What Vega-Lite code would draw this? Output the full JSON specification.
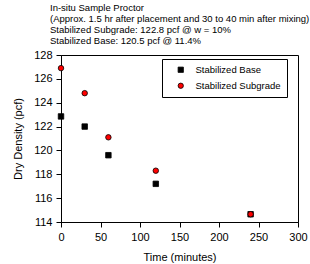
{
  "$schema": "https://vega.github.io/schema/vega-lite/v6.json",
  "autosize": {"type": "none"},
  "width": 237,
  "height": 167,
  "padding": {"left": 61, "top": 55, "right": 12, "bottom": 42},
  "background": "white",
  "title": {
    "text": ["In-situ Sample Proctor", "(Approx. 1.5 hr after placement and 30 to 40 min after mixing)", "Stabilized Subgrade: 122.8 pcf @ w = 10%", "Stabilized Base: 120.5 pcf @ 11.4%"],
    "anchor": "start",
    "frame": "group",
    "dx": -11,
    "offset": 4,
    "font": "Liberation Sans",
    "fontSize": 9.5,
    "fontWeight": "normal",
    "lineHeight": 11,
    "color": "black"
  },
  "data": {
    "values": [
      {"time": 0, "density": 122.85, "series": "Stabilized Base"},
      {"time": 30, "density": 122.0, "series": "Stabilized Base"},
      {"time": 60, "density": 119.6, "series": "Stabilized Base"},
      {"time": 120, "density": 117.2, "series": "Stabilized Base"},
      {"time": 240, "density": 114.65, "series": "Stabilized Base"},
      {"time": 0, "density": 126.9, "series": "Stabilized Subgrade"},
      {"time": 30, "density": 124.8, "series": "Stabilized Subgrade"},
      {"time": 60, "density": 121.1, "series": "Stabilized Subgrade"},
      {"time": 120, "density": 118.3, "series": "Stabilized Subgrade"},
      {"time": 240, "density": 114.65, "series": "Stabilized Subgrade"}
    ]
  },
  "mark": {"type": "point", "filled": true, "stroke": "black", "strokeWidth": 0.8, "opacity": 1, "size": 30},
  "encoding": {
    "x": {
      "field": "time", "type": "quantitative", "title": "Time (minutes)",
      "scale": {"domain": [0, 300], "nice": false, "zero": false},
      "axis": {"values": [0, 50, 100, 150, 200, 250, 300], "grid": false, "domainColor": "black", "tickColor": "black", "tickSize": 5, "labelPadding": 4, "labelFontSize": 11, "labelFont": "Liberation Sans", "labelColor": "black", "titleFont": "Liberation Sans", "titleFontSize": 11, "titleFontWeight": "normal", "titleColor": "black", "titlePadding": 9, "labelFlush": false}
    },
    "y": {
      "field": "density", "type": "quantitative", "title": "Dry Density (pcf)",
      "scale": {"domain": [114, 128], "nice": false, "zero": false},
      "axis": {"values": [114, 116, 118, 120, 122, 124, 126, 128], "grid": false, "domainColor": "black", "tickColor": "black", "tickSize": 5, "labelPadding": 4, "labelFontSize": 11, "labelFont": "Liberation Sans", "labelColor": "black", "titleFont": "Liberation Sans", "titleFontSize": 11, "titleFontWeight": "normal", "titleColor": "black", "titlePadding": 10, "labelFlush": false}
    },
    "shape": {
      "field": "series", "type": "nominal",
      "scale": {"domain": ["Stabilized Base", "Stabilized Subgrade"], "range": ["square", "circle"]},
      "legend": {"title": null, "orient": "none", "legendX": 101, "legendY": 4, "strokeColor": "black", "fillColor": "white", "padding": 6, "symbolOffset": 8, "labelFont": "Liberation Sans", "labelFontSize": 9.5, "labelColor": "black", "labelOffset": 10, "rowPadding": 5, "symbolSize": 28, "symbolStrokeWidth": 0.8}
    },
    "color": {
      "field": "series", "type": "nominal",
      "scale": {"domain": ["Stabilized Base", "Stabilized Subgrade"], "range": ["black", "#ff0000"]},
      "legend": {"title": null, "orient": "none", "legendX": 101, "legendY": 4}
    },
    "order": {"field": "series", "type": "nominal"}
  },
  "config": {
    "view": {"stroke": "black", "strokeWidth": 1},
    "legend": {"symbolStrokeColor": "black"}
  }
}
